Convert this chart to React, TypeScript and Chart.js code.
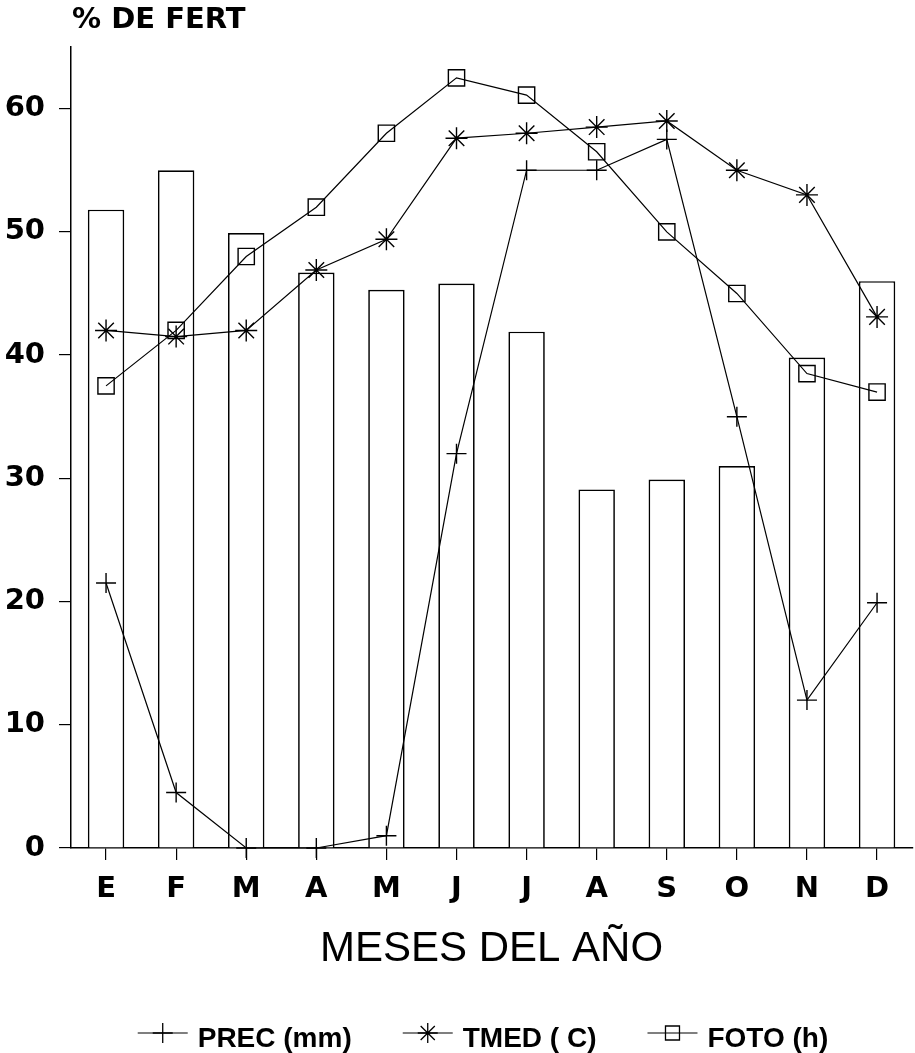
import React, { useEffect, useRef } from 'react';
import { Chart, registerables } from 'chart.js';

Chart.register(...registerables);

// ---- data ----
const MONTHS = ['E', 'F', 'M', 'A', 'M', 'J', 'J', 'A', 'S', 'O', 'N', 'D'];
const FERT = [51.8, 55.0, 49.9, 46.7, 45.3, 45.8, 41.9, 29.1, 29.9, 31.0, 39.8, 46.0];
const PREC = [21.5, 4.5, 0, 0, 1.0, 32.0, 55.0, 55.0, 57.5, 35.0, 12.0, 19.9];
const TMED = [42.0, 41.5, 42.0, 46.9, 49.4, 57.6, 58.0, 58.5, 59.0, 55.0, 53.0, 43.1];
const FOTO = [37.5, 42.0, 48.0, 52.0, 58.0, 62.5, 61.1, 56.5, 50.0, 45.0, 38.5, 37.0];
const Y_TICKS = [0, 10, 20, 30, 40, 50, 60];
const Y_MIN = 0;
const Y_MAX = 65;
const Y_TITLE = '% DE FERT';
const X_TITLE = 'MESES DEL AÑO';
const SERIES_NAMES = ['PREC (mm)', 'TMED ( C)', 'FOTO (h)'];
const SERIES_MARKERS = ['cross', 'star', 'rect'];

const CANVAS_W = 925;
const CANVAS_H = 1053;
const TICK_FONT = { family: '"DejaVu Sans", sans-serif', weight: 'bold' as const, size: 29 };

function drawMarker(ctx: CanvasRenderingContext2D, kind: string, x: number, y: number, r: number) {
  ctx.beginPath();
  if (kind === 'cross') {
    ctx.moveTo(x - r, y);
    ctx.lineTo(x + r, y);
    ctx.moveTo(x, y - r);
    ctx.lineTo(x, y + r);
  } else if (kind === 'star') {
    for (let i = 0; i < 4; i++) {
      const a = (i * Math.PI) / 4;
      ctx.moveTo(x - Math.cos(a) * r, y - Math.sin(a) * r);
      ctx.lineTo(x + Math.cos(a) * r, y + Math.sin(a) * r);
    }
  } else {
    const s = r * 0.7;
    ctx.rect(x - s, y - s, 2 * s, 2 * s);
  }
  ctx.stroke();
}

const textPlugin = {
  id: 'fertTexts',
  afterDraw(chart: any) {
    const { ctx, chartArea } = chart;
    ctx.save();
    ctx.fillStyle = '#000';
    ctx.strokeStyle = '#000';
    // y-axis title at top-left
    ctx.font = 'bold 29px "DejaVu Sans", sans-serif';
    ctx.textAlign = 'left';
    ctx.textBaseline = 'alphabetic';
    ctx.fillText(Y_TITLE, chartArea.left + 1, 28);

    // legend
    ctx.font = 'bold 28px "Liberation Sans", Arial, sans-serif';
    const lineLen = 50;
    const gapText = 10;
    const gapItem = 51;
    const widths = SERIES_NAMES.map((n) => ctx.measureText(n).width);
    const total =
      widths.reduce((a, b) => a + b, 0) + SERIES_NAMES.length * (lineLen + gapText) + gapItem * (SERIES_NAMES.length - 1);
    let x = 483 - total / 2;
    const ly = 1033;
    const baseline = 1047;
    SERIES_NAMES.forEach((name, i) => {
      ctx.lineWidth = 1.2;
      ctx.beginPath();
      ctx.moveTo(x, ly);
      ctx.lineTo(x + lineLen, ly);
      ctx.stroke();
      ctx.lineWidth = 1.3;
      drawMarker(ctx, SERIES_MARKERS[i], x + lineLen / 2, ly, 10);
      ctx.fillText(name, x + lineLen + gapText, baseline);
      x += lineLen + gapText + widths[i] + gapItem;
    });
    ctx.restore();
  },
};

export default function App() {
  const ref = useRef<HTMLCanvasElement | null>(null);

  useEffect(() => {
    if (!ref.current) return;
    const lineBase = {
      type: 'line' as const,
      borderColor: '#000',
      borderWidth: 1.2,
      pointBorderColor: '#000',
      pointBackgroundColor: 'rgba(0,0,0,0)',
      pointBorderWidth: 1.4,
      fill: false,
      tension: 0,
      clip: false as const,
    };
    const chart = new Chart(ref.current, {
      type: 'bar',
      data: {
        labels: MONTHS,
        datasets: [
          {
            ...lineBase,
            label: SERIES_NAMES[0],
            data: PREC,
            pointStyle: 'cross',
            pointRadius: 10,
            order: 1,
          },
          {
            ...lineBase,
            label: SERIES_NAMES[1],
            data: TMED,
            pointStyle: 'star',
            pointRadius: 11,
            order: 2,
          },
          {
            ...lineBase,
            label: SERIES_NAMES[2],
            data: FOTO,
            pointStyle: 'rect',
            pointRadius: 11.5,
            order: 3,
          },
          {
            type: 'bar' as const,
            label: '% FERT',
            data: FERT,
            backgroundColor: '#fff',
            borderColor: '#000',
            borderWidth: 1.7,
            barPercentage: 0.52,
            categoryPercentage: 1,
            order: 4,
          },
        ] as any,
      },
      options: {
        responsive: false,
        animation: false,
        devicePixelRatio: 1,
        layout: { padding: { left: 0, right: 6, top: 47, bottom: 0 } },
        plugins: {
          legend: { display: false },
          title: { display: false },
          tooltip: { enabled: false },
        },
        scales: {
          x: {
            type: 'category',
            offset: true,
            z: 1,
            grid: {
              display: true,
              drawOnChartArea: false,
              drawTicks: true,
              tickLength: 12,
              offset: false,
              color: '#000',
              lineWidth: 1.2,
            },
            border: { display: true, color: '#000', width: 1.5 },
            ticks: {
              color: '#000',
              font: TICK_FONT,
              padding: 12,
              maxRotation: 0,
              autoSkip: false,
            },
            title: {
              display: true,
              text: X_TITLE,
              color: '#000',
              font: { family: '"Liberation Sans", Arial, sans-serif', size: 42, weight: 'normal' },
              padding: { top: 0, bottom: 78 },
            },
            afterFit: (s: any) => {
              s.height = CANVAS_H - 848;
            },
          },
          y: {
            type: 'linear',
            min: Y_MIN,
            max: Y_MAX,
            bounds: 'data',
            z: 1,
            afterBuildTicks: (s: any) => {
              s.ticks = Y_TICKS.map((v) => ({ value: v }));
            },
            grid: {
              display: true,
              drawOnChartArea: false,
              drawTicks: true,
              tickLength: 12,
              color: '#000',
              lineWidth: 1.2,
            },
            border: { display: true, color: '#000', width: 1.5 },
            ticks: { color: '#000', font: TICK_FONT, padding: 14 },
            afterFit: (s: any) => {
              s.width = 71;
            },
          },
        },
      } as any,
      plugins: [textPlugin],
    });
    return () => chart.destroy();
  }, []);

  return (
    <div
      style={{
        position: 'absolute',
        left: 0,
        top: 0,
        width: 915,
        height: CANVAS_H,
        overflow: 'hidden',
        background: '#fff',
      }}
    >
      <canvas ref={ref} width={CANVAS_W} height={CANVAS_H} style={{ display: 'block' }} />
    </div>
  );
}
